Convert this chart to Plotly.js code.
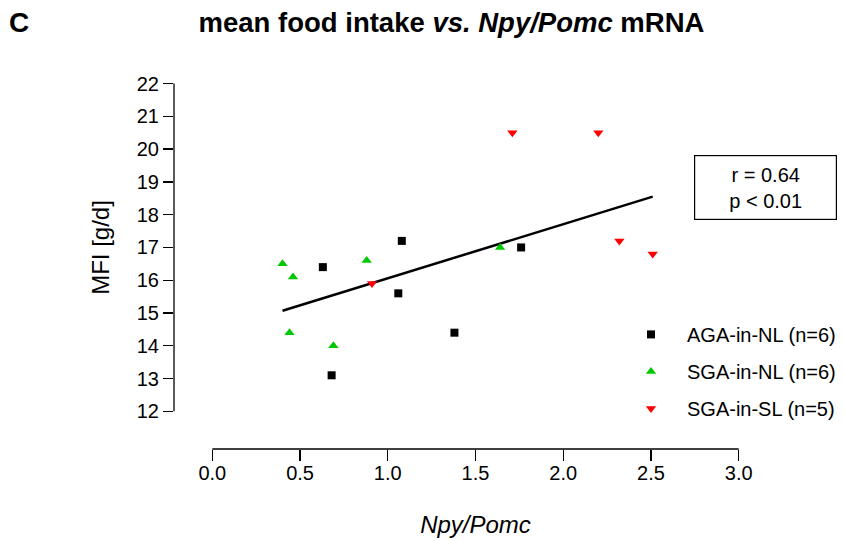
<!DOCTYPE html>
<html>
<head>
<meta charset="utf-8">
<script src="https://cdn.plot.ly/plotly-3.0.1.min.js"></script>
<style>html,body{margin:0;padding:0;background:#fff;}#chart{width:844px;height:541px;}</style>
</head>
<body>
<div id="chart"></div>
<script>
// ---- data ----
const agaNL_x  = [0.63, 1.08, 1.06, 1.38, 1.76, 0.68];
const agaNL_y  = [16.4, 17.2, 15.6, 14.4, 17.0, 13.1];
const sgaNL_x  = [0.40, 0.46, 0.88, 0.44, 0.69, 1.64];
const sgaNL_y  = [16.5, 16.1, 16.6, 14.4, 14.0, 17.0];
const sgaSL_x  = [0.91, 1.71, 2.20, 2.32, 2.51];
const sgaSL_y  = [15.9, 20.5, 20.5, 17.2, 16.8];
const seriesNames = ['AGA-in-NL (n=6)', 'SGA-in-NL (n=6)', 'SGA-in-SL (n=5)'];
const xTickVals = [0, 0.5, 1, 1.5, 2, 2.5, 3];
const xTickText = ['0.0', '0.5', '1.0', '1.5', '2.0', '2.5', '3.0'];
const yTickVals = [12, 13, 14, 15, 16, 17, 18, 19, 20, 21, 22];
const statsText = 'r = 0.64<br>p &lt; 0.01';

// ---- least-squares fit over all points ----
const allX = agaNL_x.concat(sgaNL_x, sgaSL_x);
const allY = agaNL_y.concat(sgaNL_y, sgaSL_y);
const n = allX.length;
const mx = allX.reduce((a, b) => a + b, 0) / n;
const my = allY.reduce((a, b) => a + b, 0) / n;
let sxy = 0, sxx = 0;
for (let i = 0; i < n; i++) { sxy += (allX[i] - mx) * (allY[i] - my); sxx += (allX[i] - mx) ** 2; }
const slope = sxy / sxx, icpt = my - slope * mx;
const fitX = [Math.min(...allX), Math.max(...allX)];
const fitY = fitX.map(v => icpt + slope * v);

const baseFont = 'Liberation Sans, Arial, Helvetica, sans-serif';

const traces = [
  {x: fitX, y: fitY, mode: 'lines', line: {color: '#000', width: 2.5}, showlegend: false, hoverinfo: 'skip'},
  {x: agaNL_x, y: agaNL_y, mode: 'markers', name: seriesNames[0], legendgroup: 'a',
   marker: {symbol: 'square', size: 8, color: '#000'}},
  {x: sgaNL_x, y: sgaNL_y, mode: 'markers', name: seriesNames[1], legendgroup: 'b',
   marker: {symbol: 'triangle-up', size: 9, color: '#00C800'}},
  {x: sgaSL_x, y: sgaSL_y, mode: 'markers', name: seriesNames[2], legendgroup: 'c',
   marker: {symbol: 'triangle-down', size: 9, color: '#FF0000'}}
];

const L = 174, R = 67, T = 45.7, B = 91.7;
const plotW = 844 - L - R, plotH = 541 - T - B;

const layout = {
  width: 844, height: 541,
  margin: {l: L, r: R, t: T, b: B, pad: 0, autoexpand: false},
  paper_bgcolor: '#fff', plot_bgcolor: '#fff',
  font: {family: baseFont, size: 20, color: '#000'},
  title: {
    text: '<b>mean food intake <i>vs. Npy/Pomc</i> mRNA</b>',
    font: {family: baseFont, size: 27.5, color: '#000'},
    xref: 'container', x: 451.5 / 844, xanchor: 'center',
    yref: 'container', y: 1 - 22 / 541, yanchor: 'middle'
  },
  xaxis: {
    range: [-0.2183, 3.2183], tickvals: xTickVals, ticktext: xTickText,
    ticks: 'outside', ticklen: 11, tickwidth: 1.3, tickcolor: '#000',
    ticklabelstandoff: -5,
    showgrid: false, zeroline: false, showline: false,
    tickfont: {size: 20, color: '#000'},
    title: {text: '<i>Npy/Pomc</i>', font: {size: 24, color: '#000'}, standoff: 33}
  },
  yaxis: {
    range: [22 - (449.3 - 83.3) / 32.83, 22 + (83.3 - T) / 32.83], tickvals: yTickVals,
    ticks: 'outside', ticklen: 10, tickwidth: 1.3, tickcolor: '#000',
    showgrid: false, zeroline: false, showline: false,
    tickfont: {size: 20, color: '#000'},
    title: {text: 'MFI [g/d]', font: {size: 24, color: '#000'}, standoff: 20}
  },
  shapes: [
    {type: 'line', xref: 'x', yref: 'paper', x0: xTickVals[0], x1: xTickVals[xTickVals.length - 1], y0: 0, y1: 0,
     line: {color: '#000', width: 1.3}},
    {type: 'line', xref: 'paper', yref: 'y', x0: 0, x1: 0, y0: yTickVals[0], y1: yTickVals[yTickVals.length - 1],
     line: {color: '#000', width: 1.3}}
  ],
  showlegend: true,
  legend: {
    x: (615 - L) / plotW, xanchor: 'left', y: (449.3 - 315) / plotH, yanchor: 'top',
    font: {size: 20, color: '#000'}, bgcolor: 'rgba(0,0,0,0)', borderwidth: 0,
    traceorder: 'grouped', tracegroupgap: 8, itemwidth: 62, itemclick: false
  },
  annotations: [
    {text: '<b>C</b>', xref: 'paper', yref: 'paper', x: (7 - L) / plotW, y: (449.3 - 22) / plotH,
     xanchor: 'left', yanchor: 'middle', showarrow: false,
     font: {family: baseFont, size: 28, color: '#000'}},
    {text: statsText, xref: 'paper', yref: 'paper', x: (765 - L) / plotW, y: (449.3 - 187.2) / plotH,
     xanchor: 'center', yanchor: 'middle', showarrow: false, align: 'center',
     width: 139, height: 61, borderpad: 1, borderwidth: 1.2, bordercolor: '#000', bgcolor: '#fff',
     font: {size: 20, color: '#000'}}
  ]
};

Plotly.newPlot('chart', traces, layout, {staticPlot: true, displayModeBar: false});
</script>
</body>
</html>
